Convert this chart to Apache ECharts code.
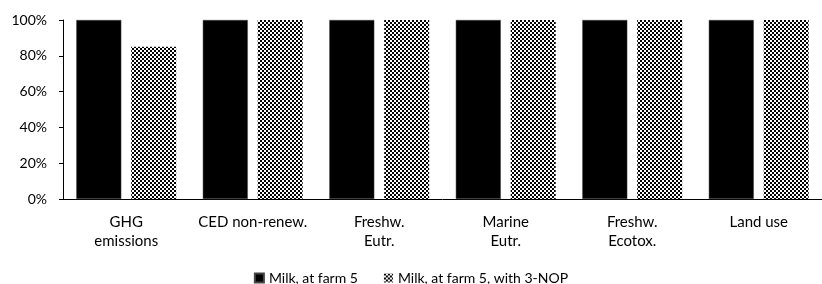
<!DOCTYPE html>
<html><head><meta charset="utf-8">
<script src="https://cdn.jsdelivr.net/npm/echarts@6/dist/echarts.min.js"></script>
<style>html,body{margin:0;padding:0;background:#fff}#c{width:822px;height:284px}</style>
</head><body><div id="c"></div>
<script>
const categories = ['GHG\nemissions', 'CED non-renew.', 'Freshw.\nEutr.', 'Marine\nEutr.', 'Freshw.\nEcotox.', 'Land use'];
const seriesNames = ['Milk, at farm 5', 'Milk, at farm 5, with 3-NOP'];
const milkFarm5 = [100, 100, 100, 100, 100, 100];
const milkFarm5NOP = [85, 100, 100, 100, 100, 100];
const yTicks = [0, 20, 40, 60, 80, 100];

const pc = document.createElement('canvas');
pc.width = 4; pc.height = 4;
const g = pc.getContext('2d');
g.fillStyle = '#fff'; g.fillRect(0, 0, 4, 4);
g.fillStyle = '#000';
g.fillRect(0, 0, 2, 2); g.fillRect(2, 2, 2, 2);

const FONT = 'Lato';
const chart = echarts.init(document.getElementById('c'));
chart.setOption({
  animation: false,
  textStyle: { fontFamily: FONT, color: '#000' },
  grid: { left: 63, top: 20, width: 769, height: 179, containLabel: false },
  legend: {
    top: 266, left: 'center', itemWidth: 9, itemHeight: 9, itemGap: 26,
    textStyle: { fontFamily: FONT, fontSize: 14, color: '#000' },
    data: [
      { name: seriesNames[0], icon: 'rect' },
      { name: seriesNames[1], icon: 'rect' }
    ]
  },
  xAxis: {
    type: 'category', data: categories,
    axisLine: { lineStyle: { color: '#000', width: 1 } },
    axisTick: { inside: true, length: 4, lineStyle: { color: '#000' } },
    axisLabel: { fontFamily: FONT, fontSize: 15, color: '#000', margin: 13, lineHeight: 19.5, interval: 0 }
  },
  yAxis: {
    type: 'value', min: 0, max: 100, interval: 20,
    axisLine: { show: true, lineStyle: { color: '#000' } },
    axisTick: { show: true, length: 4, lineStyle: { color: '#000' } },
    splitLine: { show: false },
    axisLabel: { fontFamily: FONT, fontSize: 14, color: '#000', margin: 16,
      formatter: v => yTicks.includes(v) ? v + '%' : '' }
  },
  series: [
    { name: seriesNames[0], type: 'bar', data: milkFarm5, barWidth: 45, barGap: '22%',
      itemStyle: { color: '#000', borderColor: '#444', borderWidth: 0.5 } },
    { name: seriesNames[1], type: 'bar', data: milkFarm5NOP, barWidth: 45,
      itemStyle: { color: { image: pc, repeat: 'repeat' } } }
  ]
});
</script></body></html>
